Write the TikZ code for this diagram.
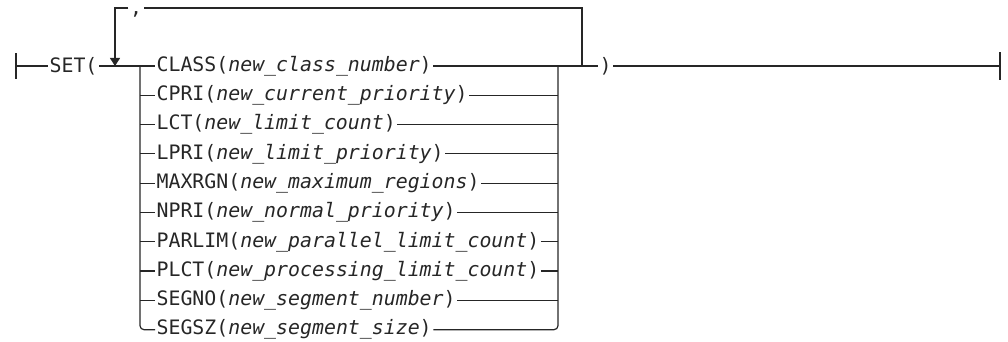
\documentclass[tikz,border=0pt]{standalone}
\usepackage{fontspec}
\setmonofont{DejaVu Sans Mono}[ItalicFont={DejaVu Sans Mono Oblique}]
\usepackage{tikz}
\usetikzlibrary{arrows.meta,positioning,calc}
\definecolor{railink}{HTML}{262626}
\tikzset{
  rail/.style={railink, line width=0.9pt},
  rarr/.style={rail, -{Triangle[length=6pt,width=7.5pt]}},
  kw/.style={font=\ttfamily\fontsize{14.9pt}{18pt}\selectfont, text=railink,
             inner xsep=1pt, inner ysep=0pt},
}
\begin{document}
\begin{tikzpicture}[x=0.75pt,y=0.75pt]
  \useasboundingbox (0,0) rectangle (1008,342);
  \coordinate (start) at (16,276);
  \coordinate (merge) at (115,276);
  \coordinate (bl) at (140,276);
  \coordinate (br) at (558,276);
  \coordinate (loopr) at (582,276);
  \coordinate (loopt) at (115,334);
  \coordinate (stop) at (1000,276);
  \node[kw,anchor=west] (set) at (48,276) {SET(};
  \node[kw,anchor=west] (close) at (598,276) {)};
  % choices
  \foreach \kwd/\parm [count=\i from 0] in {CLASS/new\_class\_number,
      CPRI/new\_current\_priority, LCT/new\_limit\_count,
      LPRI/new\_limit\_priority, MAXRGN/new\_maximum\_regions,
      NPRI/new\_normal\_priority, PARLIM/new\_parallel\_limit\_count,
      PLCT/new\_processing\_limit\_count, SEGNO/new\_segment\_number,
      SEGSZ/new\_segment\_size}
    \node[kw,anchor=west] (opt\i) at (155,{276-\i*29.3}) {\kwd(\textit{\parm})};
  % main rail
  \draw[rail] ($(start)+(0,-13)$) -- ($(start)+(0,13)$);
  \draw[rail] (start) -- (set.west);
  \draw[rail] (set.east) -- (bl) -- (opt0.west);
  \draw[rail] (opt0.east) -- (br) -- (close.west);
  \draw[rail,rounded corners=3pt] (bl) |- (opt9.west);
  \draw[rail,rounded corners=3pt] (opt9.east) -| (br);
  \foreach \i in {1,...,8} {
    \draw[rail] (bl |- opt\i.west) -- (opt\i.west);
    \draw[rail] (opt\i.east) -- (br |- opt\i.east);
  }
  % repeat loop
  \node[kw,anchor=north] (sep) at (136,331) {,};
  \draw[rail] (loopr) |- (sep.east |- loopt);
  \draw[rarr] (sep.west |- loopt) -| (merge);
  \draw[rail] (close.east) -- (stop);
  \draw[rail] ($(stop)+(0,-14)$) -- ($(stop)+(0,14)$);
\end{tikzpicture}
\end{document}
